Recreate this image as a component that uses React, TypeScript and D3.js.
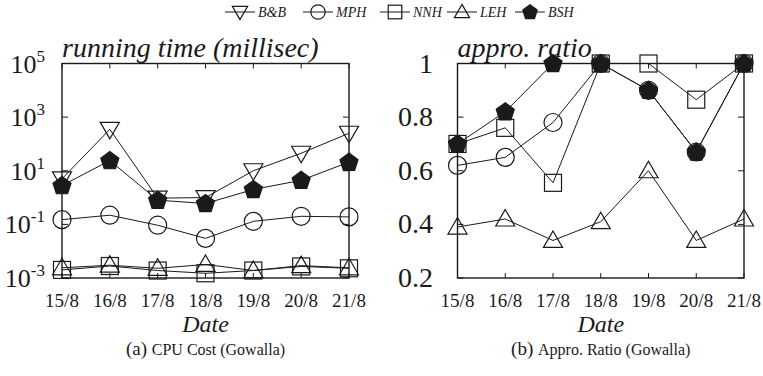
import React from "react";
import * as d3 from "d3";

const dates = ["15/8", "16/8", "17/8", "18/8", "19/8", "20/8", "21/8"];

// (a) CPU cost, milliseconds (log scale)
const cpuBB = [5, 350, 0.95, 1.0, 10, 45, 250];
const cpuMPH = [0.15, 0.22, 0.093, 0.03, 0.13, 0.2, 0.19];
const cpuNNH = [0.002, 0.0028, 0.0019, 0.0015, 0.0019, 0.0027, 0.0023];
const cpuLEH = [0.0024, 0.003, 0.0023, 0.0032, 0.0019, 0.0029, 0.0024];
const cpuBSH = [2.8, 24, 0.8, 0.6, 2, 4.4, 21];
const cpuTickExps = [-3, -1, 1, 3, 5];

// (b) approximation ratio
const ratioMPH = [0.62, 0.65, 0.78, 1.0, 0.9, 0.67, 1.0];
const ratioNNH = [0.7, 0.76, 0.555, 1.0, 1.0, 0.865, 1.0];
const ratioLEH = [0.39, 0.42, 0.34, 0.41, 0.6, 0.34, 0.42];
const ratioBSH = [0.7, 0.82, 1.0, 1.0, 0.9, 0.67, 1.0];
const ratioTicks = [0.2, 0.4, 0.6, 0.8, 1];

const legendNames = ["B&B", "MPH", "NNH", "LEH", "BSH"];
const legendShapes = ["tdown", "circle", "square", "tup", "pent"];

const INK = "#1a1a1a";
const FONT = "'Liberation Serif', 'DejaVu Serif', serif";

function polygon(n: number, r: number, rot: number) {
  const pts: [number, number][] = [];
  for (let i = 0; i < n; i++) {
    const a = rot + (i * 2 * Math.PI) / n;
    pts.push([r * Math.cos(a), r * Math.sin(a)]);
  }
  return "M" + pts.map((p) => p[0].toFixed(2) + "," + p[1].toFixed(2)).join("L") + "Z";
}

function Marker({ shape, x, y, k = 1 }: { shape: string; x: number; y: number; k?: number }) {
  const common = { stroke: INK, strokeWidth: 1.2 };
  if (shape === "circle")
    return <circle cx={x} cy={y} r={9 * k} fill="none" {...common} />;
  if (shape === "square")
    return <rect x={x - 8.5 * k} y={y - 8.5 * k} width={17 * k} height={17 * k} fill="none" {...common} />;
  if (shape === "tup")
    return <path d={polygon(3, 11 * k, -Math.PI / 2)} transform={`translate(${x},${y + 1.5 * k})`} fill="none" {...common} />;
  if (shape === "tdown")
    return <path d={polygon(3, 11 * k, Math.PI / 2)} transform={`translate(${x},${y - 1.5 * k})`} fill="none" {...common} />;
  return <path d={polygon(5, 9.5 * k, -Math.PI / 2)} transform={`translate(${x},${y + 0.5 * k})`} fill={INK} {...common} />;
}

type Series = { values: number[]; shape: string };

function Panel({
  left, right, top, bottom, y, series, yLabels, title, caption, capLetter,
}: {
  left: number; right: number; top: number; bottom: number;
  y: (v: number) => number;
  series: Series[];
  yLabels: { v: number; node: React.ReactNode }[];
  title: string; caption: string; capLetter: string;
}) {
  const x = d3.scalePoint<string>().domain(dates).range([left, right]);
  const line = d3.line<number>().x((_, i) => x(dates[i])!).y((v) => y(v));
  const cx = (left + right) / 2;
  return (
    <g>
      {dates.map((d) => (
        <g key={d}>
          <line x1={x(d)} x2={x(d)} y1={bottom} y2={bottom - 5} stroke={INK} />
          <line x1={x(d)} x2={x(d)} y1={top} y2={top + 5} stroke={INK} />
          <text x={x(d)} y={bottom + 29} textAnchor="middle" fontSize={19} fontFamily={FONT} fill={INK}>{d}</text>
        </g>
      ))}
      {yLabels.map((t, i) => (
        <g key={i}>
          <line x1={left} x2={left + 6} y1={y(t.v)} y2={y(t.v)} stroke={INK} />
          <line x1={right} x2={right - 6} y1={y(t.v)} y2={y(t.v)} stroke={INK} />
          {t.node}
        </g>
      ))}
      <rect x={left} y={top} width={right - left} height={bottom - top} fill="none" stroke={INK} strokeWidth={1.4} />
      {series.map((s, i) => (
        <path key={i} d={line(s.values)!} fill="none" stroke={INK} strokeWidth={1} />
      ))}
      {series.map((s, i) =>
        s.values.map((v, j) => <Marker key={i + "-" + j} shape={s.shape} x={x(dates[j])!} y={y(v)} />)
      )}
      <text x={left} y={top - 7} fontSize={28} fontStyle="italic" fontFamily={FONT} fill={INK}>{title}</text>
      <text x={cx} y={bottom + 54} textAnchor="middle" fontSize={24} fontStyle="italic" fontFamily={FONT} fill={INK}>Date</text>
      <text x={cx} y={bottom + 77} textAnchor="middle" fontFamily={FONT} fill={INK}>
        <tspan fontSize={19}>{capLetter}</tspan>
        <tspan fontSize={16}>{caption}</tspan>
      </text>
    </g>
  );
}

export default function App() {
  const top = 63.5, bottom = 278;
  const yLog = d3.scaleLog().domain([1e-3, 1e5]).range([bottom, top]);
  const yLin = d3.scaleLinear().domain([0.2, 1]).range([bottom, top]);

  const logLabels = cpuTickExps.map((e) => ({
    v: Math.pow(10, e),
    node: (
      <text x={45} y={yLog(Math.pow(10, e)) + 9} textAnchor="end" fontFamily={FONT} fill={INK}>
        <tspan fontSize={26}>10</tspan>
        <tspan fontSize={17} dy={-11}>{String(e)}</tspan>
      </text>
    ),
  }));
  const linLabels = ratioTicks.map((t) => ({
    v: t,
    node: (
      <text x={433} y={yLin(t) + 9} textAnchor="end" fontSize={28} fontFamily={FONT} fill={INK}>
        {d3.format("~g")(t)}
      </text>
    ),
  }));

  const legendX = [240, 318, 395, 462, 530];

  return (
    <svg width={763} height={376} style={{ position: "absolute", left: 0, top: 0, background: "#fff" }}>
      <rect width={763} height={376} fill="#fff" />
      {legendNames.map((n, i) => (
        <g key={n}>
          <line x1={legendX[i] - 15} x2={legendX[i] + 15} y1={12} y2={12} stroke={INK} />
          <Marker shape={legendShapes[i]} x={legendX[i]} y={12} k={0.8} />
          <text x={legendX[i] + 18} y={17} fontSize={14} fontStyle="italic" fontFamily={FONT} fill={INK}>{n}</text>
        </g>
      ))}
      <Panel
        left={62} right={349} top={top} bottom={bottom}
        y={(v) => yLog(v)}
        series={[
          { values: cpuBB, shape: "tdown" },
          { values: cpuMPH, shape: "circle" },
          { values: cpuNNH, shape: "square" },
          { values: cpuLEH, shape: "tup" },
          { values: cpuBSH, shape: "pent" },
        ]}
        yLabels={logLabels}
        title="running time (millisec)"
        capLetter="(a) "
        caption="CPU Cost (Gowalla)"
      />
      <Panel
        left={457.5} right={744} top={top} bottom={bottom}
        y={(v) => yLin(v)}
        series={[
          { values: ratioMPH, shape: "circle" },
          { values: ratioNNH, shape: "square" },
          { values: ratioLEH, shape: "tup" },
          { values: ratioBSH, shape: "pent" },
        ]}
        yLabels={linLabels}
        title="appro. ratio"
        capLetter="(b) "
        caption="Appro. Ratio (Gowalla)"
      />
    </svg>
  );
}
